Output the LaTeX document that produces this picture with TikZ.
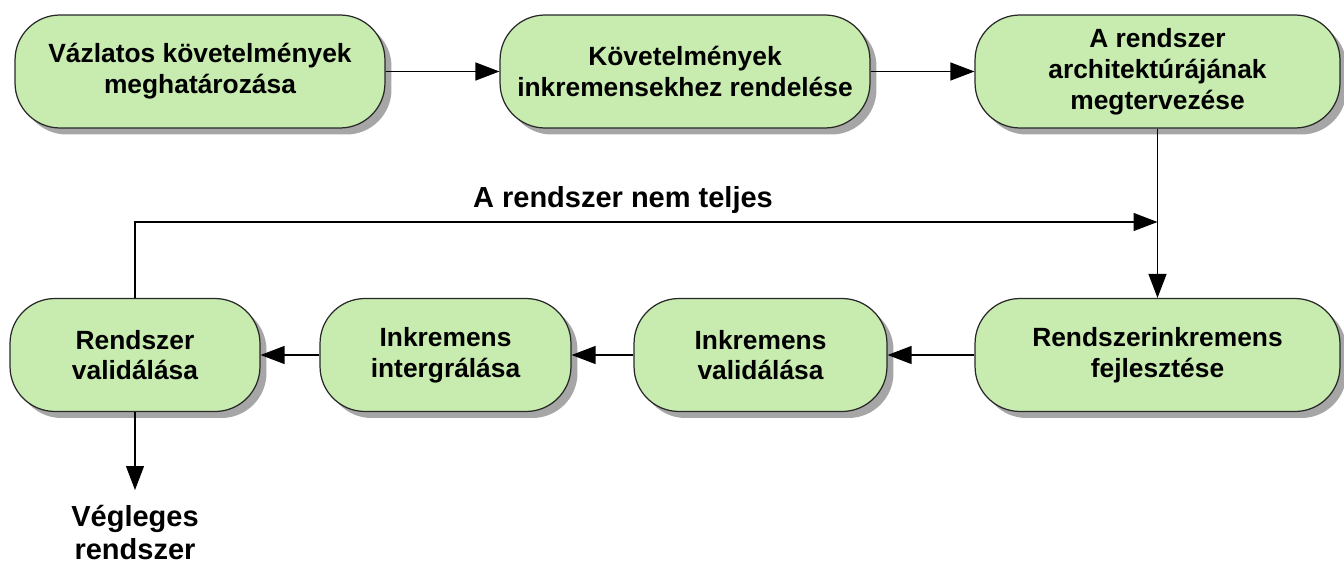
\documentclass[tikz,border=0pt]{standalone}
\usepackage{fontspec}
\setmainfont{Liberation Sans}
\usetikzlibrary{arrows.meta,shadows}
\definecolor{verdino}{RGB}{200,236,176}
\definecolor{bordo}{RGB}{40,40,40}

\begin{document}
\begin{tikzpicture}[x=0.02cm,y=-0.02cm]
% definizione delle caratteristiche dei blocchi
\tikzset{blocco/.style={rectangle,rounded corners=0.9cm,draw=bordo,line width=0.7pt,
  fill=verdino,minimum height=2.26cm,align=center,
  font=\fontsize{15}{17.5}\selectfont\bfseries,
  drop shadow={shadow xshift=0.13cm,shadow yshift=-0.13cm,fill=black!35,opacity=1}}}
% definizione delle frecce
\tikzset{freccia/.style={draw=black,line width=0.7pt,-{Triangle[length=0.48cm,width=0.36cm]}}}
\tikzset{etichetta/.style={align=center,font=\fontsize{16.5}{19}\selectfont\bfseries}}

\useasboundingbox (0,0) rectangle (1344,564);

%----
% blocchi della riga superiore
\foreach \nome/\x/\w/\testo in {b1/200/7.4cm/{Vázlatos követelmények\\meghatározása},
  b2/685/7.4cm/{Követelmények\\inkremensekhez rendelése},
  b3/1157.5/7.3cm/{A rendszer\\architektúrájának\\megtervezése}}
\node[blocco,minimum width=\w] (\nome) at (\x,71.5) {\testo};
% blocchi della riga inferiore
\foreach \nome/\x/\w/\testo in {r1/135/5cm/{Rendszer\\validálása},
  r2/445.5/5.02cm/{Inkremens\\intergrálása},
  r3/760.5/5.06cm/{Inkremens\\validálása},
  r4/1157.5/7.3cm/{Rendszerinkremens\\fejlesztése}}
\node[blocco,minimum width=\w] (\nome) at (\x,355) {\testo};

% frecce tra i blocchi
\draw[freccia] (b1) -- (b2);
\draw[freccia] (b2) -- (b3);
\draw[freccia] (b3) -- (r4);
\draw[freccia] (r4) -- (r3);
\draw[freccia] (r3) -- (r2);
\draw[freccia] (r2) -- (r1);

% ritorno: il sistema non e' completo
\coordinate (ritorno) at (b3.south |- 0,222);
\draw[freccia] (r1.north) |- (ritorno);
\node[etichetta] (incompleto) at (623,200) {A rendszer nem teljes};

% uscita finale
\node[etichetta,anchor=north,inner sep=0.3cm] (finale) at (135,490) {Végleges\\rendszer};
\draw[freccia] (r1) -- (finale);
\end{tikzpicture}
\end{document}
